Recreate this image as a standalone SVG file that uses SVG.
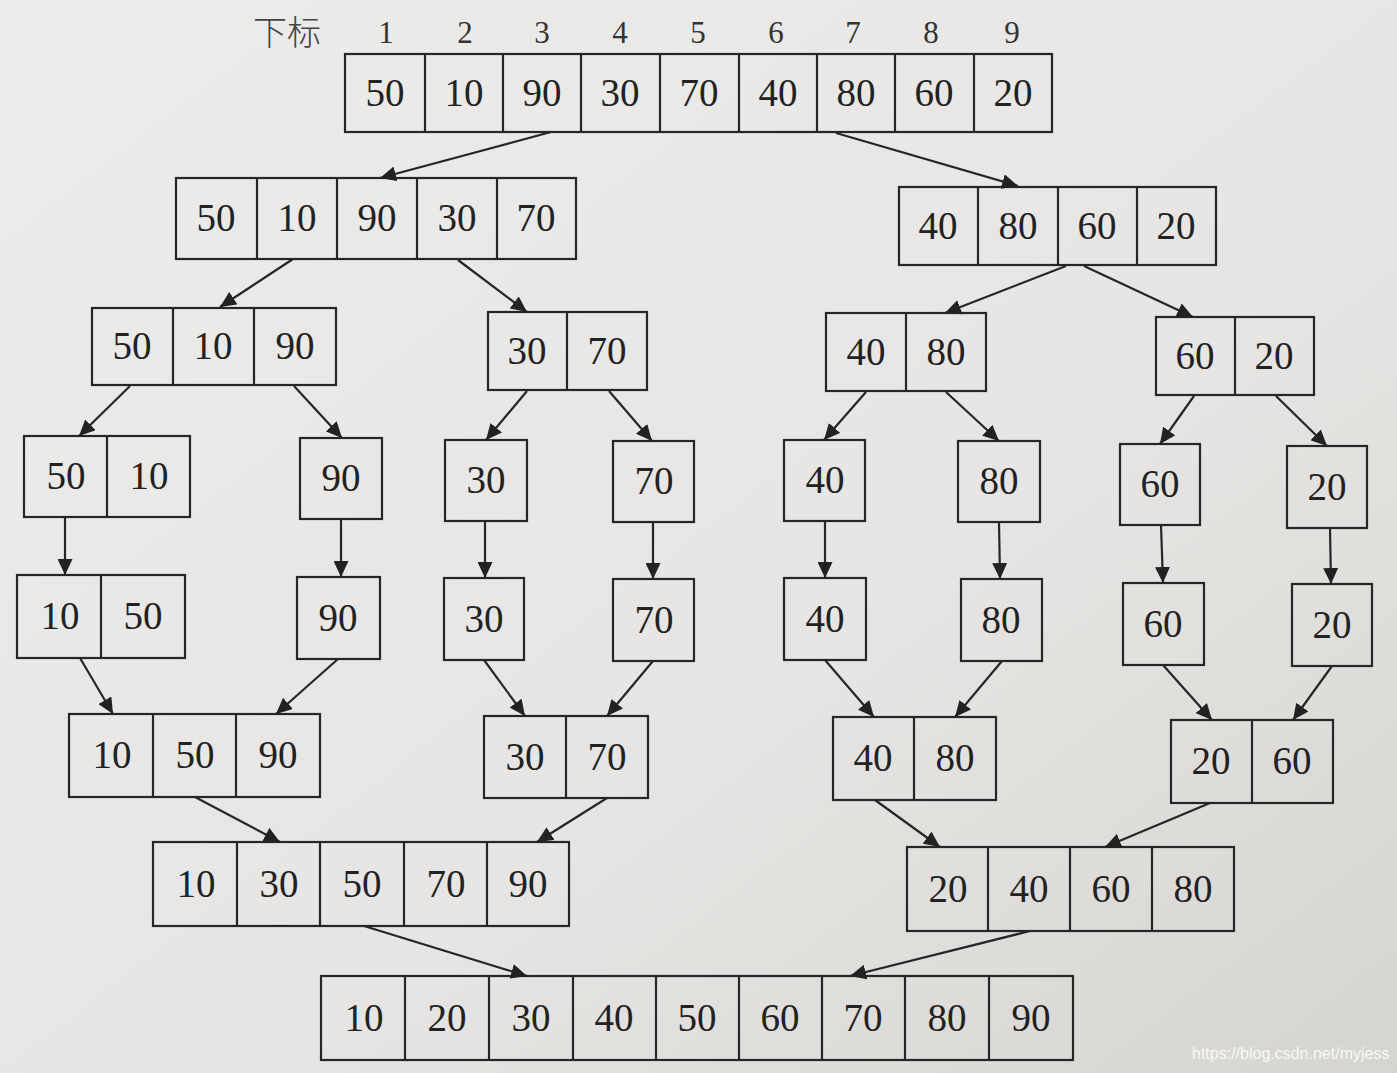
<svg xmlns="http://www.w3.org/2000/svg" width="1397" height="1073" viewBox="0 0 1397 1073">
<defs>
<linearGradient id="bg" x1="0" y1="0" x2="1" y2="1">
<stop offset="0" stop-color="#ececea"/>
<stop offset="0.6" stop-color="#e6e5e3"/>
<stop offset="1" stop-color="#d6d4d1"/>
</linearGradient>
<marker id="ah" markerUnits="userSpaceOnUse" markerWidth="17" markerHeight="15" refX="16" refY="7.5" orient="auto">
<path d="M0,0 L16,7.5 L0,15 z" fill="#222"/>
</marker>
</defs>
<style>
.box{fill:none;stroke:#262626;stroke-width:2.2}
.div{stroke:#262626;stroke-width:2.2}
.v{font-family:"Liberation Serif","Times New Roman",serif;font-size:39px;fill:#222;text-anchor:middle}
.idx{font-family:"Liberation Serif","Times New Roman",serif;font-size:31px;fill:#333;text-anchor:middle}
.cjk{font-family:"Noto Sans CJK SC","Liberation Sans",sans-serif;font-weight:300;font-size:34px;fill:#444;text-anchor:middle}
.ln{stroke:#262626;stroke-width:2.2;fill:none;marker-end:url(#ah)}
.wm{font-family:"Liberation Sans",Arial,sans-serif;font-size:16px;fill:#ffffff;fill-opacity:0.85}
</style>
<rect x="0" y="0" width="1397" height="1073" fill="url(#bg)"/>

<g id="index-labels">
<text class="cjk" x="287" y="45">下标</text>
<text class="idx" x="386" y="43">1</text>
<text class="idx" x="465" y="43">2</text>
<text class="idx" x="542" y="43">3</text>
<text class="idx" x="620" y="43">4</text>
<text class="idx" x="698" y="43">5</text>
<text class="idx" x="776" y="43">6</text>
<text class="idx" x="853" y="43">7</text>
<text class="idx" x="931" y="43">8</text>
<text class="idx" x="1012" y="43">9</text>
</g>

<g id="n0">
<rect class="box" x="345" y="54" width="707" height="78"/>
<path class="div" d="M425,54V132M503,54V132M581,54V132M660,54V132M739,54V132M817,54V132M895,54V132M974,54V132"/>
<text class="v" x="385" y="106">50</text><text class="v" x="464" y="106">10</text><text class="v" x="542" y="106">90</text><text class="v" x="620" y="106">30</text><text class="v" x="699" y="106">70</text><text class="v" x="778" y="106">40</text><text class="v" x="856" y="106">80</text><text class="v" x="934" y="106">60</text><text class="v" x="1013" y="106">20</text>
</g>

<g id="n1L">
<rect class="box" x="176" y="178" width="400" height="81"/>
<path class="div" d="M257,178V259M337,178V259M417,178V259M497,178V259"/>
<text class="v" x="216" y="231">50</text><text class="v" x="297" y="231">10</text><text class="v" x="377" y="231">90</text><text class="v" x="457" y="231">30</text><text class="v" x="536" y="231">70</text>
</g>

<g id="n1R">
<rect class="box" x="899" y="187" width="317" height="78"/>
<path class="div" d="M978,187V265M1058,187V265M1137,187V265"/>
<text class="v" x="938" y="239">40</text><text class="v" x="1018" y="239">80</text><text class="v" x="1097" y="239">60</text><text class="v" x="1176" y="239">20</text>
</g>

<g id="n2a">
<rect class="box" x="92" y="308" width="244" height="77"/>
<path class="div" d="M173,308V385M254,308V385"/>
<text class="v" x="132" y="359">50</text><text class="v" x="213" y="359">10</text><text class="v" x="295" y="359">90</text>
</g>
<g id="n2b">
<rect class="box" x="488" y="312" width="159" height="78"/>
<path class="div" d="M567,312V390"/>
<text class="v" x="527" y="364">30</text><text class="v" x="607" y="364">70</text>
</g>
<g id="n2c">
<rect class="box" x="826" y="313" width="160" height="78"/>
<path class="div" d="M906,313V391"/>
<text class="v" x="866" y="365">40</text><text class="v" x="946" y="365">80</text>
</g>
<g id="n2d">
<rect class="box" x="1156" y="317" width="158" height="78"/>
<path class="div" d="M1235,317V395"/>
<text class="v" x="1195" y="369">60</text><text class="v" x="1274" y="369">20</text>
</g>

<g id="n3a">
<rect class="box" x="24" y="436" width="166" height="81"/>
<path class="div" d="M107,436V517"/>
<text class="v" x="66" y="489">50</text><text class="v" x="149" y="489">10</text>
</g>
<g id="n3b"><rect class="box" x="300" y="438" width="82" height="81"/><text class="v" x="341" y="491">90</text></g>
<g id="n3c"><rect class="box" x="445" y="440" width="82" height="81"/><text class="v" x="486" y="493">30</text></g>
<g id="n3d"><rect class="box" x="613" y="441" width="81" height="81"/><text class="v" x="654" y="494">70</text></g>
<g id="n3e"><rect class="box" x="784" y="440" width="81" height="81"/><text class="v" x="825" y="493">40</text></g>
<g id="n3f"><rect class="box" x="958" y="441" width="82" height="81"/><text class="v" x="999" y="494">80</text></g>
<g id="n3g"><rect class="box" x="1120" y="444" width="80" height="81"/><text class="v" x="1160" y="497">60</text></g>
<g id="n3h"><rect class="box" x="1287" y="446" width="80" height="82"/><text class="v" x="1327" y="500">20</text></g>

<g id="n4a">
<rect class="box" x="17" y="575" width="168" height="83"/>
<path class="div" d="M101,575V658"/>
<text class="v" x="60" y="629">10</text><text class="v" x="143" y="629">50</text>
</g>
<g id="n4b"><rect class="box" x="297" y="577" width="83" height="82"/><text class="v" x="338" y="631">90</text></g>
<g id="n4c"><rect class="box" x="444" y="578" width="80" height="82"/><text class="v" x="484" y="632">30</text></g>
<g id="n4d"><rect class="box" x="613" y="579" width="81" height="82"/><text class="v" x="654" y="633">70</text></g>
<g id="n4e"><rect class="box" x="784" y="578" width="82" height="82"/><text class="v" x="825" y="632">40</text></g>
<g id="n4f"><rect class="box" x="961" y="579" width="81" height="82"/><text class="v" x="1001" y="633">80</text></g>
<g id="n4g"><rect class="box" x="1123" y="583" width="81" height="82"/><text class="v" x="1163" y="637">60</text></g>
<g id="n4h"><rect class="box" x="1292" y="584" width="80" height="82"/><text class="v" x="1332" y="638">20</text></g>

<g id="n5a">
<rect class="box" x="69" y="714" width="251" height="83"/>
<path class="div" d="M153,714V797M236,714V797"/>
<text class="v" x="112" y="768">10</text><text class="v" x="195" y="768">50</text><text class="v" x="278" y="768">90</text>
</g>
<g id="n5b">
<rect class="box" x="484" y="716" width="164" height="82"/>
<path class="div" d="M566,716V798"/>
<text class="v" x="525" y="770">30</text><text class="v" x="607" y="770">70</text>
</g>
<g id="n5c">
<rect class="box" x="833" y="717" width="163" height="83"/>
<path class="div" d="M914,717V800"/>
<text class="v" x="873" y="771">40</text><text class="v" x="955" y="771">80</text>
</g>
<g id="n5d">
<rect class="box" x="1171" y="720" width="162" height="83"/>
<path class="div" d="M1252,720V803"/>
<text class="v" x="1211" y="774">20</text><text class="v" x="1292" y="774">60</text>
</g>

<g id="n6a">
<rect class="box" x="153" y="842" width="416" height="84"/>
<path class="div" d="M237,842V926M320,842V926M404,842V926M487,842V926"/>
<text class="v" x="196" y="897">10</text><text class="v" x="279" y="897">30</text><text class="v" x="362" y="897">50</text><text class="v" x="446" y="897">70</text><text class="v" x="528" y="897">90</text>
</g>
<g id="n6b">
<rect class="box" x="907" y="847" width="327" height="84"/>
<path class="div" d="M988,847V931M1070,847V931M1152,847V931"/>
<text class="v" x="948" y="902">20</text><text class="v" x="1029" y="902">40</text><text class="v" x="1111" y="902">60</text><text class="v" x="1193" y="902">80</text>
</g>

<g id="n7">
<rect class="box" x="321" y="976" width="752" height="84"/>
<path class="div" d="M405,976V1060M489,976V1060M573,976V1060M656,976V1060M739,976V1060M822,976V1060M905,976V1060M989,976V1060"/>
<text class="v" x="364" y="1031">10</text><text class="v" x="447" y="1031">20</text><text class="v" x="531" y="1031">30</text><text class="v" x="614" y="1031">40</text><text class="v" x="697" y="1031">50</text><text class="v" x="780" y="1031">60</text><text class="v" x="863" y="1031">70</text><text class="v" x="947" y="1031">80</text><text class="v" x="1031" y="1031">90</text>
</g>

<g id="connectors">
<line class="ln" x1="551" y1="132" x2="380" y2="178"/>
<line class="ln" x1="836" y1="133" x2="1018" y2="186"/>
<line class="ln" x1="293" y1="259" x2="220" y2="307"/>
<line class="ln" x1="458" y1="260" x2="527" y2="312"/>
<line class="ln" x1="1066" y1="266" x2="945" y2="313"/>
<line class="ln" x1="1084" y1="266" x2="1193" y2="317"/>
<line class="ln" x1="130" y1="386" x2="79" y2="436"/>
<line class="ln" x1="294" y1="386" x2="342" y2="438"/>
<line class="ln" x1="527" y1="391" x2="486" y2="440"/>
<line class="ln" x1="609" y1="391" x2="652" y2="441"/>
<line class="ln" x1="866" y1="392" x2="824" y2="440"/>
<line class="ln" x1="946" y1="392" x2="999" y2="441"/>
<line class="ln" x1="1194" y1="396" x2="1160" y2="444"/>
<line class="ln" x1="1276" y1="396" x2="1327" y2="446"/>
<line class="ln" x1="65" y1="517" x2="65" y2="575"/>
<line class="ln" x1="341" y1="519" x2="341" y2="577"/>
<line class="ln" x1="485" y1="521" x2="485" y2="578"/>
<line class="ln" x1="653" y1="522" x2="653" y2="579"/>
<line class="ln" x1="825" y1="521" x2="825" y2="578"/>
<line class="ln" x1="999" y1="522" x2="1000" y2="579"/>
<line class="ln" x1="1161" y1="525" x2="1163" y2="583"/>
<line class="ln" x1="1330" y1="528" x2="1331" y2="584"/>
<line class="ln" x1="80" y1="658" x2="113" y2="714"/>
<line class="ln" x1="338" y1="659" x2="276" y2="714"/>
<line class="ln" x1="484" y1="660" x2="525" y2="716"/>
<line class="ln" x1="653" y1="661" x2="607" y2="716"/>
<line class="ln" x1="825" y1="660" x2="874" y2="717"/>
<line class="ln" x1="1002" y1="661" x2="955" y2="717"/>
<line class="ln" x1="1163" y1="665" x2="1212" y2="720"/>
<line class="ln" x1="1332" y1="666" x2="1293" y2="720"/>
<line class="ln" x1="195" y1="797" x2="280" y2="842"/>
<line class="ln" x1="607" y1="798" x2="537" y2="842"/>
<line class="ln" x1="875" y1="800" x2="940" y2="847"/>
<line class="ln" x1="1210" y1="803" x2="1105" y2="847"/>
<line class="ln" x1="364" y1="926" x2="527" y2="976"/>
<line class="ln" x1="1030" y1="931" x2="850" y2="976"/>
</g>

<text class="wm" x="1192" y="1059">https://blog.csdn.net/myjess</text>
</svg>
